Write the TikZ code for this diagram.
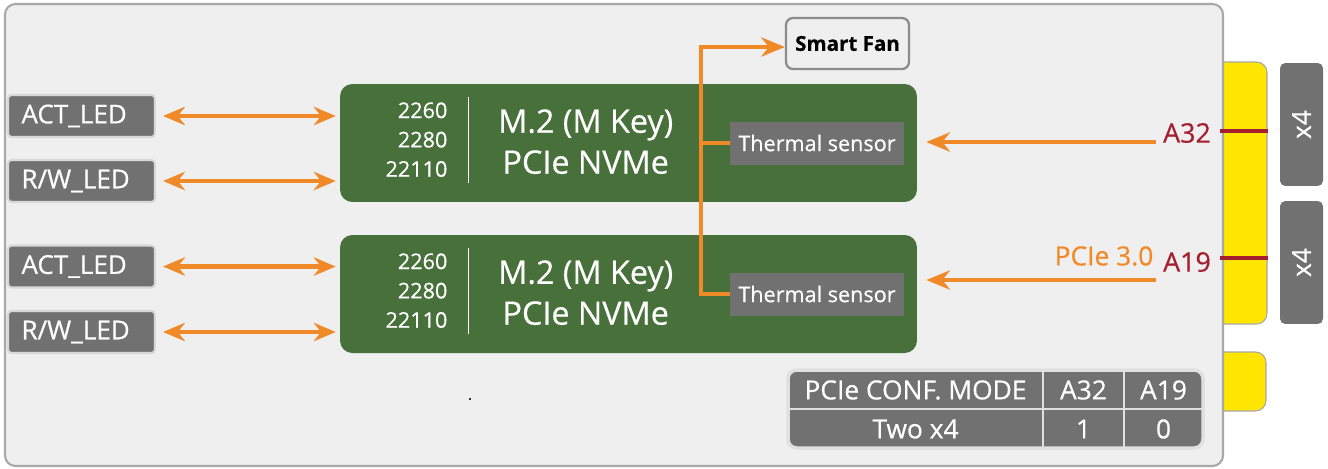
\documentclass[tikz,border=0pt]{standalone}
\usepackage{fontspec}
\setmainfont{Open Sans}[FakeBold=0.5]
\usetikzlibrary{arrows.meta,positioning,calc}
\definecolor{board}{HTML}{EFEFEF}
\definecolor{edge}{HTML}{A8A8A8}
\definecolor{ssd}{HTML}{47703A}
\definecolor{slate}{HTML}{717171}
\definecolor{orng}{HTML}{F08A28}
\definecolor{pinred}{HTML}{A51E2F}
\definecolor{gold}{HTML}{FFE600}
\tikzset{
  led/.style={draw=black!15,line width=1.2pt,fill=slate,rounded corners=2pt,text=white,
              text width=2.4cm,align=left,inner xsep=0.27cm,
              minimum width=2.94cm,minimum height=0.84cm,font=\fontsize{14.8}{17}\selectfont},
  m2/.style={fill=ssd,rounded corners=7pt,minimum width=11.54cm,minimum height=2.36cm},
  sensor/.style={fill=slate,text=white,minimum width=3.48cm,minimum height=0.86cm,inner sep=0pt,
                 font=\fontsize{12.3}{14}\selectfont},
  lane/.style={fill=slate,rounded corners=3pt,text=white,rotate=90,minimum width=2.46cm,
               minimum height=0.86cm,font=\fontsize{15}{17}\selectfont},
  sig/.style={draw=orng,line width=2.3pt},
  bus/.style={sig,{Stealth[length=12.5pt,width=10.5pt]}-{Stealth[length=12.5pt,width=10.5pt]}},
  feed/.style={sig,-{Stealth[length=13.5pt,width=11pt]}},
  cell/.style={text=white,inner sep=0pt,font=\fontsize{15}{17}\selectfont},
  pinlbl/.style={text=pinred,inner sep=0pt,font=\fontsize{15.3}{17}\selectfont},
}
\begin{document}
\begin{tikzpicture}[x=0.02cm,y=-0.02cm]
  \useasboundingbox (0,0) rectangle (1328,468);
  % gold finger and carrier board
  \draw[fill=gold,draw=black!35,line width=0.6pt,rounded corners=6pt] (1200,62) rectangle (1267,324);
  \draw[fill=gold,draw=black!35,line width=0.6pt,rounded corners=6pt] (1200,352) rectangle (1266,411);
  \draw[fill=board,draw=edge,line width=1.2pt,rounded corners=6pt] (5,4) rectangle (1223,466);
  \node[lane] (l1) at (1301.5,124.5) {x4};
  \node[lane] (l2) at (1301.5,262.5) {x4};
  % M.2 slots
  \node[m2] (g1) at (628.5,143) {};
  \node[m2] (g2) at (628.5,294) {};
  \foreach \g in {g1,g2}{
    \node[anchor=east,align=right,text=white,inner sep=0pt,font=\fontsize{12.3}{16.7}\selectfont]
      (\g-size) at ($(\g.north west)+(108,56)$) {2260\\2280\\22110};
    \draw[white,line width=0.8pt] ($(\g.north west)+(129,13)$) -- ($(\g.north west)+(129,99)$);
    \node[align=center,text=white,inner sep=0pt,font=\fontsize{18.4}{23.3}\selectfont]
      (\g-title) at ($(\g.north west)+(246,58)$) {M.2 (M Key)\\PCIe NVMe};
  }
  \node[sensor] (t1) at (817,143) {Thermal sensor};
  \node[sensor] (t2) at (817,294) {Thermal sensor};
  \node[draw=black!45,line width=1.3pt,fill=board,rounded corners=4pt,minimum width=2.46cm,
        minimum height=1.02cm,font=\bfseries\fontsize{11.7}{14}\selectfont] (fan) at (847.5,43.5) {Smart Fan};
  \coordinate (tap) at (701,47);
  \draw[feed] (t2.west) -| (tap) -- (tap -| fan.west);
  \draw[sig] (t1.west) -- (t1.west -| tap);
  % LEDs
  \node[led] (act1) at (81.5,116) {ACT\_LED};
  \node[led] (rw1) at (81.5,181) {R/W\_LED};
  \node[led] (act2) at (81.5,266.5) {ACT\_LED};
  \node[led] (rw2) at (81.5,332) {R/W\_LED};
  \foreach \n/\g in {act1/g1,rw1/g1,act2/g2,rw2/g2}{
    \draw[bus,shorten <=0.14cm,shorten >=0.08cm] (\n.east) -- (\n.east -| \g.west);
  }
  % pins
  \draw[pinred,line width=2.3pt] (1220,131) -- (1268,131);
  \draw[pinred,line width=2.3pt] (1220,258) -- (1268,258);
  \node[pinlbl] (p32) at (1187,133) {A32};
  \node[pinlbl] (p19) at (1187,262) {A19};
  \node[text=orng,inner sep=0pt,font=\fontsize{15}{17}\selectfont] (gen3) at (1104,256) {PCIe 3.0};
  \coordinate (in32) at (1156,142);
  \coordinate (in19) at (1156,280);
  \draw[feed,shorten >=0.18cm] (in32) -- (in32 -| g1.east);
  \draw[feed,shorten >=0.18cm] (in19) -- (in19 -| g2.east);
  % config table
  \draw[fill=slate,draw=black!12,line width=2pt,rounded corners=5pt] (788,370) rectangle (1203,448);
  \draw[black!12,line width=1pt] (788,409) -- (1203,409) (1043,370) -- (1043,448) (1124,370) -- (1124,448);
  \node[cell] (mode) at (915.5,390) {PCIe CONF. MODE};
  \node[cell] (a32h) at (1083.5,390) {A32};
  \node[cell] (a19h) at (1163.5,390) {A19};
  \node[cell] (two) at (915.5,429) {Two x4};
  \node[cell] (one) at (1083.5,429) {1};
  \node[cell] (zero) at (1163.5,429) {0};
  \fill[black!80] (469,398) rectangle (471,400);
\end{tikzpicture}
\end{document}
